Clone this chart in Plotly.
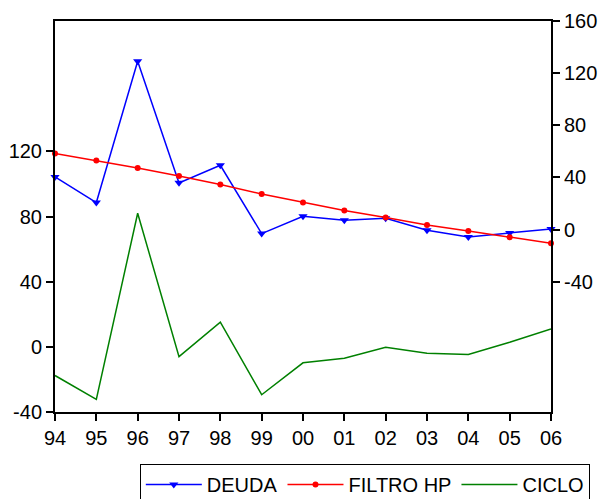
import plotly.graph_objects as go

years = ["94", "95", "96", "97", "98", "99", "00", "01", "02", "03", "04", "05", "06"]
deuda = [40.4, 20.7, 129.1, 35.8, 49.3, -3.1, 10.2, 7.1, 8.7, -0.5, -5.7, -2.6, 0.5]
filtro_hp = [58.3, 52.9, 47.3, 41.1, 34.5, 27.3, 20.7, 14.6, 9.2, 3.5, -1.1, -5.9, -10.5]
ciclo = [-17.6, -32.3, 82.0, -6.0, 15.1, -29.4, -9.8, -7.0, -0.2, -3.9, -4.7, 2.8, 11.0]
left_ticks = [-40, 0, 40, 80, 120]
left_labels = ["-40", "0", "40", "80", "120"]
right_ticks = [-40, 0, 40, 80, 120, 160]
right_labels = ["-40", "0", "40", "80", "120", "160"]

FONT = "Liberation Sans, Arial, sans-serif"

fig = go.Figure()
fig.add_trace(go.Scatter(
    x=years, y=deuda, name="DEUDA", yaxis="y2", mode="lines+markers",
    line=dict(color="#0000ff", width=1.5),
    marker=dict(symbol="triangle-down", size=8, color="#0000ff"),
    cliponaxis=False,
))
fig.add_trace(go.Scatter(
    x=years, y=filtro_hp, name="FILTRO HP", yaxis="y2", mode="lines+markers",
    line=dict(color="#ff0000", width=1.5),
    marker=dict(symbol="circle", size=6, color="#ff0000"),
    cliponaxis=False,
))
fig.add_trace(go.Scatter(
    x=years, y=ciclo, name="CICLO", yaxis="y", mode="lines",
    line=dict(color="#008000", width=1.5),
))

axis_common = dict(
    showgrid=False, zeroline=False, showline=True, linecolor="black", linewidth=2,
    ticks="outside", ticklen=7, tickwidth=1.5, tickcolor="black",
    tickfont=dict(family=FONT, size=20, color="black"),
    automargin=False,
)

fig.update_layout(
    width=606, height=499,
    margin=dict(l=55, r=55, t=21, b=87),
    paper_bgcolor="white", plot_bgcolor="white",
    font=dict(family=FONT, size=20, color="black"),
    xaxis=dict(type="category", range=[0, 12], mirror=True, **axis_common),
    yaxis=dict(range=[-40, 200], tickvals=left_ticks, ticktext=left_labels, **axis_common),
    yaxis2=dict(range=[-140, 160], tickvals=right_ticks, ticktext=right_labels,
                overlaying="y", side="right", **axis_common),
    legend=dict(
        orientation="h", xref="paper", x=0.171, xanchor="left",
        yref="container", y=0.07, yanchor="top",
        bordercolor="black", borderwidth=1, bgcolor="white",
        font=dict(family=FONT, size=20, color="black"),
        itemwidth=56,
    ),
    showlegend=True,
)

fig.write_html("out.html")
